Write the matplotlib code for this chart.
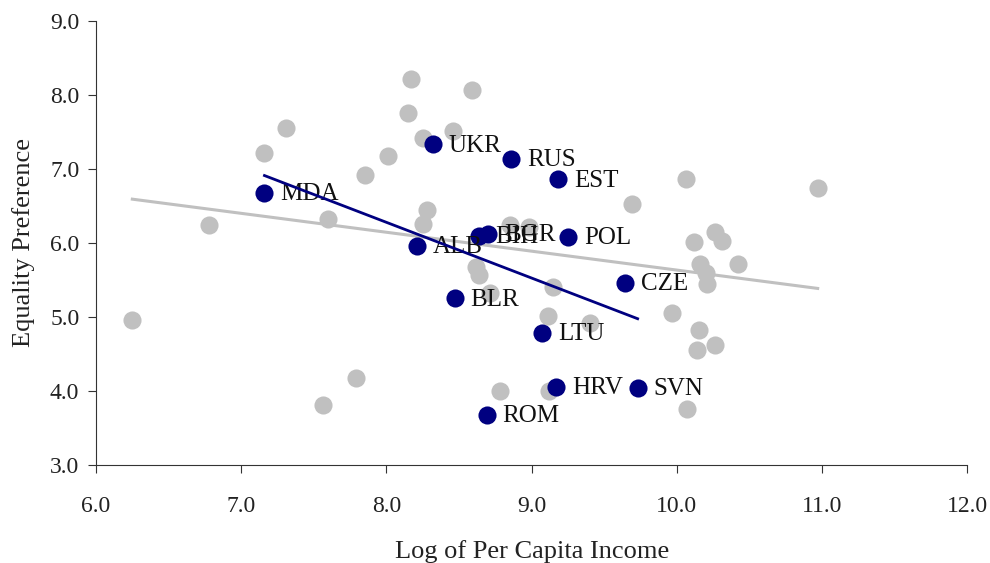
import matplotlib.pyplot as plt
import numpy as np

plt.rcParams['font.family'] = ['Liberation Serif', 'DejaVu Serif']

# other countries (grey)
other_x = [8.17, 8.59, 8.15, 8.46, 8.25, 7.31, 7.16, 8.01, 7.85, 7.60,
           6.78, 8.28, 8.25, 8.62, 8.64, 8.71, 6.25, 7.79, 7.56, 8.78,
           10.06, 10.97, 9.69, 10.12, 10.26, 10.31, 10.42, 10.16, 10.20, 10.21,
           9.15, 9.11, 9.40, 9.97, 10.15, 10.14, 10.26, 9.12, 10.07, 8.85, 8.98]
other_y = [8.22, 8.07, 7.76, 7.51, 7.42, 7.55, 7.21, 7.17, 6.92, 6.33,
           6.24, 6.45, 6.25, 5.67, 5.57, 5.33, 4.96, 4.17, 3.81, 4.00,
           6.86, 6.74, 6.53, 6.01, 6.15, 6.03, 5.71, 5.72, 5.60, 5.45,
           5.40, 5.01, 4.92, 5.06, 4.82, 4.55, 4.62, 4.00, 3.76, 6.24, 6.21]

# transition countries (navy, labelled)
trans_names = ['MDA', 'UKR', 'ALB', 'RUS', 'EST', 'POL', 'BIH', 'BGR',
               'CZE', 'LTU', 'HRV', 'SVN', 'ROM', 'BLR']
trans_x = [7.16, 8.32, 8.21, 8.86, 9.18, 9.25, 8.64, 8.70,
           9.64, 9.07, 9.17, 9.73, 8.69, 8.47]
trans_y = [6.68, 7.33, 5.96, 7.14, 6.86, 6.08, 6.10, 6.12,
           5.46, 4.79, 4.06, 4.04, 3.68, 5.25]

gray = '#C0C0C0'
navy = '#000080'

fig = plt.figure(figsize=(9.9, 5.63), dpi=100)
ax = fig.add_axes([0.097, 0.174, 0.88, 0.789])

ax.scatter(other_x, other_y, s=170, color=gray, linewidths=0, zorder=2)

# trend over the grey countries
ox = np.array(other_x)
oy = np.array(other_y)
b, a = np.polyfit(ox, oy, 1)
xs = np.array([ox.min(), ox.max()])
ax.plot(xs, a + b * xs, color=gray, lw=2.2, zorder=3)

# trend over transition countries
tx = np.array(trans_x)
ty = np.array(trans_y)
b2, a2 = np.polyfit(tx, ty, 1)
xs2 = np.array([tx.min(), tx.max()])
ax.plot(xs2, a2 + b2 * xs2, color=navy, lw=2, zorder=6)

ax.scatter(trans_x, trans_y, s=170, color=navy, linewidths=0, zorder=4)
for name, x, y in zip(trans_names, trans_x, trans_y):
    ax.annotate(name, (x, y), xytext=(11.5, -1), textcoords='offset points',
                va='center', ha='left', fontsize=18, color='#111111', zorder=5)

ax.set_xlim(6, 12)
ax.set_ylim(3, 9)
ax.set_xticks(np.arange(6, 12.1, 1))
ax.set_yticks(np.arange(3, 9.1, 1))
ax.set_xticklabels([f'{v:.1f}' for v in np.arange(6, 12.1, 1)])
ax.set_yticklabels([f'{v:.1f}' for v in np.arange(3, 9.1, 1)])
ax.tick_params(labelsize=17, length=6, color='#333333', labelcolor='#222222')
ax.tick_params(axis='x', pad=16)
ax.tick_params(axis='y', pad=6)
ax.spines['top'].set_visible(False)
ax.spines['right'].set_visible(False)
for sp in ['left', 'bottom']:
    ax.spines[sp].set_color('#333333')

ax.set_xlabel('Log of Per Capita Income', fontsize=19, color='#222222', labelpad=17)
ax.set_ylabel('Equality Preference', fontsize=19, color='#222222', labelpad=11)

fig.savefig('out.png', dpi=100)
